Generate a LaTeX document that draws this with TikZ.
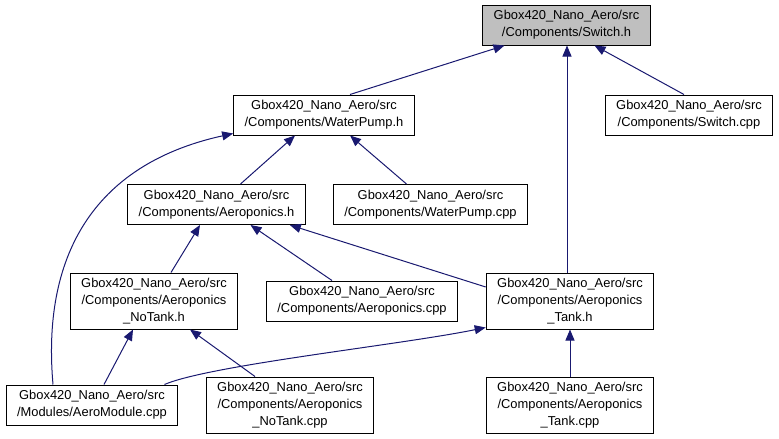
\documentclass[tikz,border=0pt]{standalone}
\usepackage{fontspec}
\setmainfont{Liberation Sans}
\usepackage{tikz}
\usetikzlibrary{arrows.meta,positioning}

\definecolor{navyline}{HTML}{191970}
\definecolor{curfile}{HTML}{BFBFBF}

\tikzset{
  file/.style={draw=black, line width=1pt, rectangle, align=center, inner xsep=11pt, inner ysep=0pt,
    minimum height=40pt, font=\fontsize{12.9}{17}\selectfont},
  tall/.style={minimum height=56pt},
  dep/.style={draw=navyline, line width=1pt, -{Triangle[length=11pt,width=9pt]}}
}

\begin{document}
\begin{tikzpicture}[x=1pt, y=-1pt]
      \useasboundingbox (0,0) rectangle (779,439);

      % Các tệp (hàng trên)
      \node[file, fill=curfile] (swh) at (566.5,25) {Gbox420\_Nano\_Aero/src\\/Components/Switch.h};
      \node[file] (wph) at (324,115) {Gbox420\_Nano\_Aero/src\\/Components/WaterPump.h};
      \node[file] (swcpp) at (689,115) {Gbox420\_Nano\_Aero/src\\/Components/Switch.cpp};
      \node[file] (aph) at (216.5,204.5) {Gbox420\_Nano\_Aero/src\\/Components/Aeroponics.h};
      \node[file] (wpcpp) at (430.5,204.5) {Gbox420\_Nano\_Aero/src\\/Components/WaterPump.cpp};

      % Các tệp (hàng dưới)
      \node[file, tall] (nth) at (154,301) {Gbox420\_Nano\_Aero/src\\/Components/Aeroponics\\\_NoTank.h};
      \node[file] (apcpp) at (362,301) {Gbox420\_Nano\_Aero/src\\/Components/Aeroponics.cpp};
      \node[file, tall] (tkh) at (570,301) {Gbox420\_Nano\_Aero/src\\/Components/Aeroponics\\\_Tank.h};
      \node[file] (amcpp) at (92,405) {Gbox420\_Nano\_Aero/src\\/Modules/AeroModule.cpp};
      \node[file, tall] (ntcpp) at (290,405) {Gbox420\_Nano\_Aero/src\\/Components/Aeroponics\\\_NoTank.cpp};
      \node[file, tall] (tkcpp) at (570,405) {Gbox420\_Nano\_Aero/src\\/Components/Aeroponics\\\_Tank.cpp};

      % Các mũi tên phụ thuộc
      \draw[dep] ([xshift=26pt]wph.north) -- ([xshift=-62pt]swh.south);
      \draw[dep] ([xshift=-3pt]tkh.north) -- ([xshift=0.5pt]swh.south);
      \draw[dep] ([xshift=-5pt]swcpp.north) -- ([xshift=28pt]swh.south);
      \draw[dep] ([xshift=24pt]aph.north) -- ([xshift=-29pt]wph.south);
      \draw[dep] ([xshift=-24pt]wpcpp.north) -- ([xshift=26pt]wph.south);
      \draw[dep] ([xshift=-39pt]amcpp.north) .. controls (42,260) and (90,165) .. ([yshift=2pt]wph.south west);
      \draw[dep] ([xshift=17pt]nth.north) -- ([xshift=-16.5pt]aph.south);
      \draw[dep] ([xshift=-30pt]apcpp.north) -- ([xshift=34pt]aph.south);
      \draw[dep] ([yshift=14pt]tkh.west) -- ([xshift=-16pt]aph.south east);
      \draw[dep] ([xshift=12pt]amcpp.north) -- ([xshift=-21pt]nth.south);
      \draw[dep] ([xshift=-35pt]ntcpp.north) -- ([xshift=36pt]nth.south);
      \draw[dep] ([xshift=-14pt]amcpp.north east) .. controls (210,365) and (400,345) .. ([yshift=2pt]tkh.south west);
      \draw[dep] (tkcpp.north) -- (tkh.south);
    \end{tikzpicture}
\end{document}
